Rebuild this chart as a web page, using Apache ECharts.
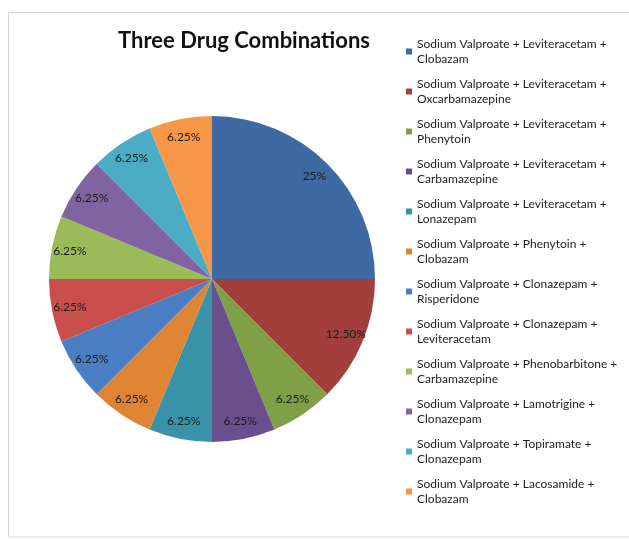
<!DOCTYPE html>
<html>
<head>
<meta charset="utf-8">
<script src="https://cdn.jsdelivr.net/npm/echarts@6/dist/echarts.min.js"></script>
<style>
html, body { margin: 0; padding: 0; background: #fff; }
#main { width: 629px; height: 539px; }
</style>
</head>
<body>
<div id="main"></div>
<script>
// 三药联用
const categories = [
  'Sodium Valproate + Leviteracetam +\nClobazam',
  'Sodium Valproate + Leviteracetam +\nOxcarbamazepine',
  'Sodium Valproate + Leviteracetam +\nPhenytoin',
  'Sodium Valproate + Leviteracetam +\nCarbamazepine',
  'Sodium Valproate + Leviteracetam +\nLonazepam',
  'Sodium Valproate + Phenytoin +\nClobazam',
  'Sodium Valproate + Clonazepam +\nRisperidone',
  'Sodium Valproate + Clonazepam +\nLeviteracetam',
  'Sodium Valproate + Phenobarbitone +\nCarbamazepine',
  'Sodium Valproate + Lamotrigine +\nClonazepam',
  'Sodium Valproate + Topiramate +\nClonazepam',
  'Sodium Valproate + Lacosamide +\nClobazam'
]
const values = [25, 12.5, 6.25, 6.25, 6.25, 6.25, 6.25, 6.25, 6.25, 6.25, 6.25, 6.25]
const valueLabels = ['25%', '12.50%', '6.25%', '6.25%', '6.25%', '6.25%', '6.25%', '6.25%', '6.25%', '6.25%', '6.25%', '6.25%']

const colors = [
  '#3d6aa3', '#a23f3d', '#7fa046', '#6a4e8e', '#3893a8', '#df8433',
  '#4a7fc4', '#c94f4c', '#9bbb59', '#8064a2', '#4bacc6', '#f79646'
]

const chart = echarts.init(document.getElementById('main'), null, {
  width: 629,
  height: 539
})

const pieData = categories.map((name, i) => ({ name: name, value: values[i] }))
const R = 163

const option = {
  backgroundColor: '#fff',
  color: colors,
  animation: false,
  title: {
    text: 'Three Drug Combinations',
    left: 113,
    top: 25,
    textStyle: {
      fontFamily: 'Lato',
      fontWeight: 'bold',
      fontSize: 22,
      color: '#111'
    }
  },
  legend: {
    orient: 'vertical',
    left: 406,
    top: 29,
    padding: 0,
    itemWidth: 6,
    itemHeight: 6,
    itemGap: -5,
    icon: 'rect',
    selectedMode: false,
    data: categories,
    textStyle: {
      fontFamily: 'Lato',
      fontSize: 12,
      color: '#222',
      lineHeight: 15,
      padding: [15, 0, 0, 0]
    }
  },
  graphic: [{
    type: 'rect',
    silent: true,
    shape: { x: 8.5, y: 12.5, width: 640, height: 524.5 },
    style: { fill: null, stroke: '#d4d4d4', lineWidth: 1 }
  }],
  series: [{
    name: 'combos',
    type: 'pie',
    center: [212, 279],
    radius: [0, R],
    startAngle: 90,
    clockwise: true,
    label: { show: false },
    labelLine: { show: false },
    emphasis: { disabled: true },
    data: pieData
  }, {
    // 只用来放百分比标签
    name: 'labels',
    type: 'pie',
    center: [212, 279],
    radius: [R * 0.74, R],
    startAngle: 90,
    clockwise: true,
    silent: true,
    legendHoverLink: false,
    itemStyle: { color: 'rgba(0,0,0,0)' },
    label: {
      show: true,
      position: 'inside',
      fontFamily: 'Lato',
      fontSize: 12,
      color: '#1a1a1a',
      formatter: (p) => valueLabels[p.dataIndex]
    },
    labelLine: { show: false },
    emphasis: { disabled: true },
    data: values.map((v, i) => ({ name: 'label' + i, value: v }))
  }]
}
chart.setOption(option)
</script>
</body>
</html>
